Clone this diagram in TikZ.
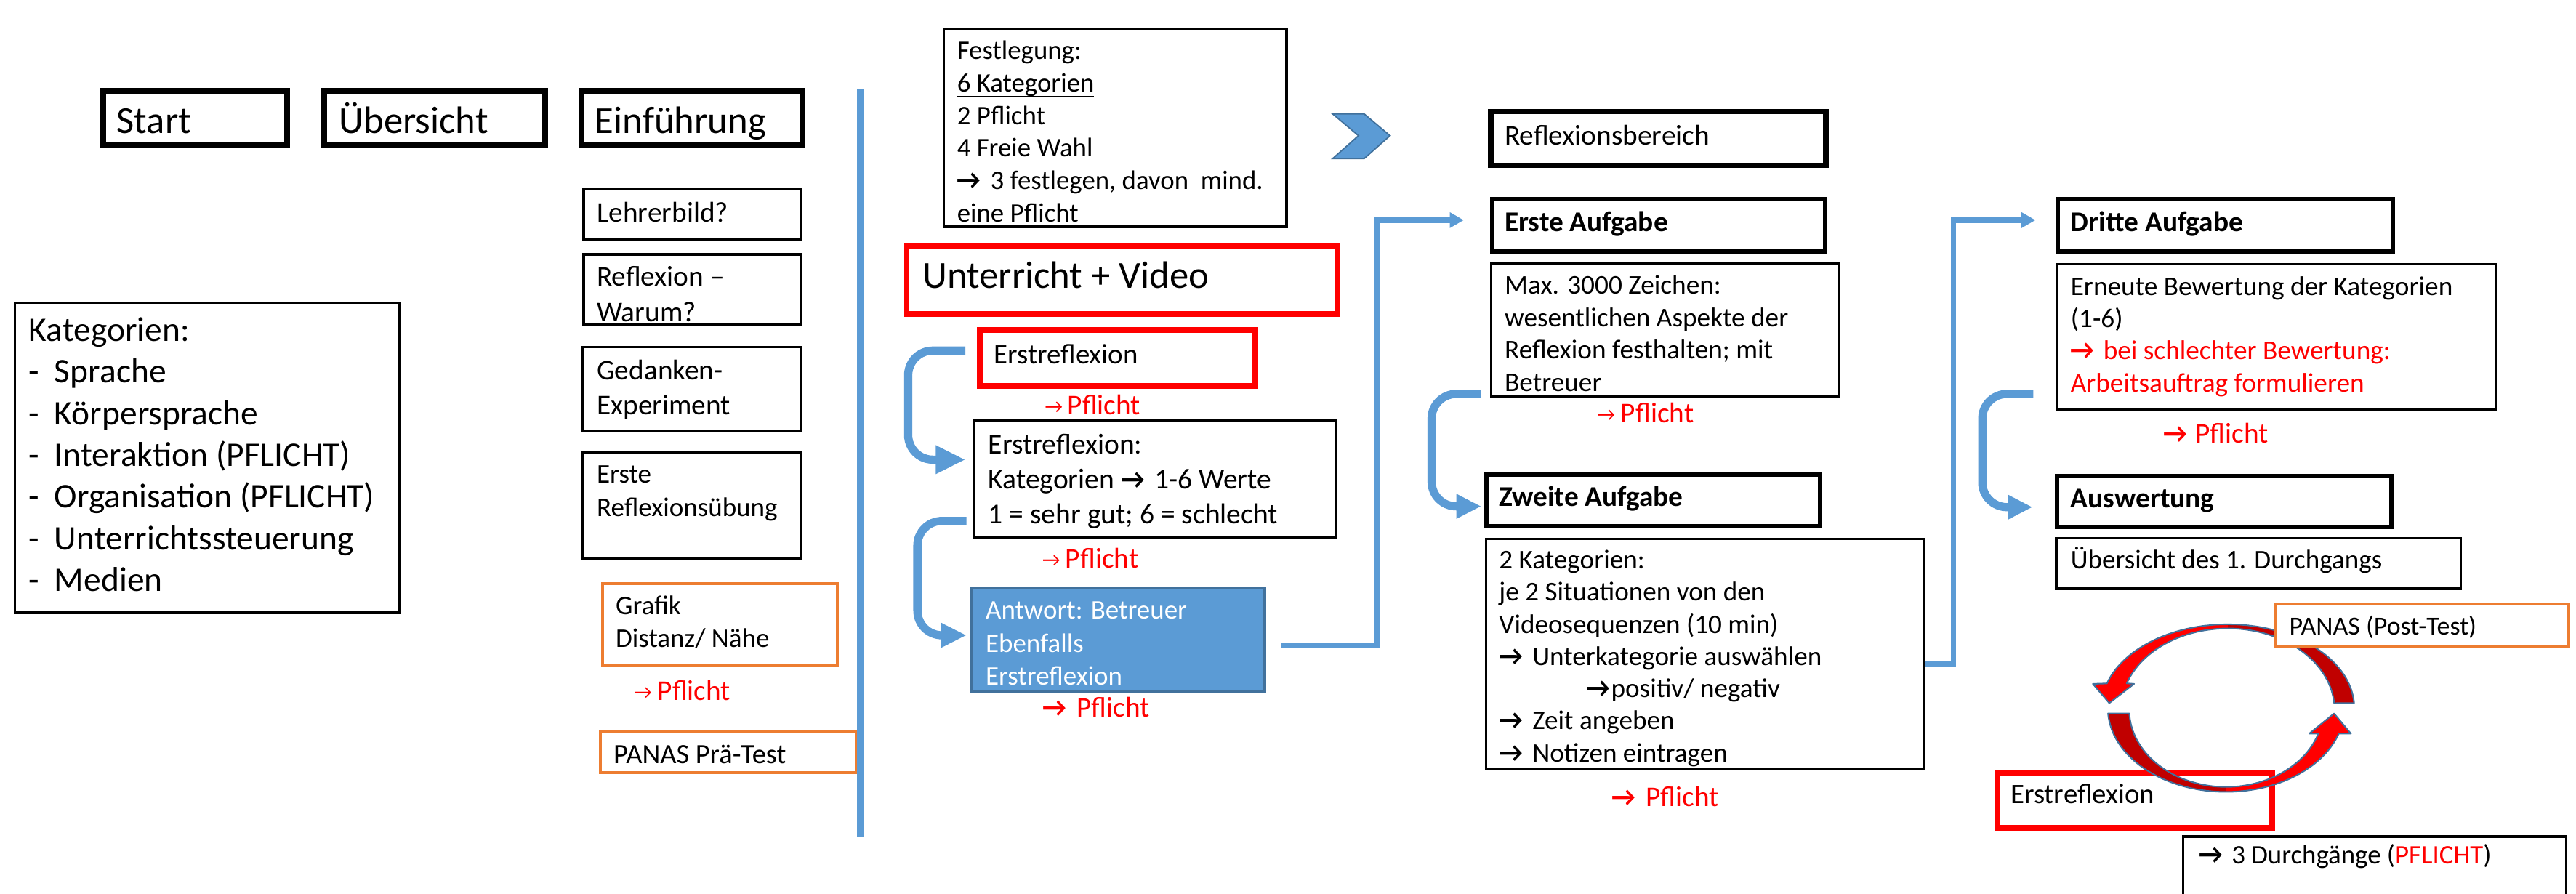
\documentclass[tikz,border=0pt]{standalone}
\usepackage{fontspec}
\usepackage{graphicx}
\setmainfont{Carlito}
\usetikzlibrary{arrows.meta,calc}
\definecolor{pblue}{HTML}{5B9BD5}
\definecolor{pdblue}{HTML}{41719C}
\definecolor{pred}{HTML}{FF0000}
\definecolor{pdred}{HTML}{C00000}
\definecolor{porange}{HTML}{ED7D31}
\newlength\ulw
\newcommand\myul[1]{\settowidth{\ulw}{#1}\rlap{\rule[-3.3pt]{\ulw}{0.9pt}}#1}
\newcommand\mlines[1]{\begin{tabular}[t]{@{}l@{}}#1\end{tabular}}
\newcommand\bigarr{\resizebox{14.5pt}{10pt}{\bfseries →}}
\newcommand\smarr{\raisebox{0.8pt}{\fontsize{12}{14}\selectfont →}}
\newcommand\katdash{\makebox[15.6pt][l]{-}}
\newcommand\mkbox[6]{\node[#2, rectangle, inner sep=0pt, outer sep=0pt, minimum width={(#5)-(#3)}, minimum height={(#6)-(#4)}] (#1) at ({((#3)+(#5))/2},{-((#4)+(#6))/2}) {};}
\newcommand\mktext[5]{\node[txt,#2] (#1) at (#3,{-#4}) {#5};}
\tikzset{
  thickbox/.style={draw=black, line width=3.6pt},
  thinbox/.style={draw=black, line width=1.5pt},
  midbox/.style={draw=black, line width=2.5pt},
  reflbox/.style={draw=black, line width=3.3pt},
  redbox/.style={draw=pred, line width=3.6pt},
  redboxb/.style={draw=pred, line width=3.4pt},
  orangebox/.style={draw=porange, line width=1.8pt, fill=white},
  bluefill/.style={draw=pdblue, fill=pblue, line width=1.5pt},
  conn/.style={draw=pblue, line width=3.4pt, -{Triangle[length=8.5pt,width=9pt]}},
  bendarr/.style={draw=pblue, line width=5pt, rounded corners=15pt},
  txt/.style={anchor=base west, inner sep=0pt, outer sep=0pt, text=black},
  fHead/.style={font=\fontsize{23.3}{28}\selectfont},
  fKat/.style={font=\fontsize{21}{25.4}\selectfont},
  fL/.style={font=\fontsize{17.4}{21.3}\selectfont},
  fM/.style={font=\fontsize{16.4}{20.2}\selectfont},
  fF/.style={font=\fontsize{16.3}{19.8}\selectfont},
  fE/.style={font=\fontsize{17.2}{20}\selectfont},
  fK6/.style={font=\fontsize{17.5}{21.05}\selectfont},
  fA/.style={font=\fontsize{16.35}{20.15}\selectfont, text=white},
  fB/.style={font=\fontsize{17.4}{21}\selectfont\bfseries},
  fX/.style={font=\fontsize{16.5}{19.7}\selectfont},
  fXb/.style={font=\fontsize{16.45}{19.6}\selectfont},
  fXc/.style={font=\fontsize{16.5}{19.5}\selectfont},
  fU/.style={font=\fontsize{16.4}{20}\selectfont},
  fPP/.style={font=\fontsize{15.9}{19}\selectfont},
  fD/.style={font=\fontsize{16.3}{19.5}\selectfont},
  fP/.style={font=\fontsize{17.4}{21}\selectfont, text=pred},
  fPre/.style={font=\fontsize{17}{20.5}\selectfont},
}
\begin{document}
\begin{tikzpicture}[x=1pt,y=1pt]
\path[use as bounding box, fill=white] (0,0) rectangle (1568,-543.8);
\clip (0,0) rectangle (1568,-543.8);

% header boxes
\mkbox{start}{thickbox}{62.8}{55.2}{174.9}{88.5}
\mktext{startT}{fHead}{71.1}{81.1}{Start}
\mkbox{uebers}{thickbox}{197.5}{55.2}{331.7}{88.5}
\mktext{uebersT}{fHead}{206.5}{81.1}{Übersicht}
\mkbox{einf}{thickbox}{353.9}{55.2}{488.5}{88.5}
\mktext{einfT}{fHead}{362.3}{81.1}{Einführung}

% Kategorien
\mkbox{kat}{thinbox}{9.2}{184.3}{243.1}{372.9}
\mktext{katT}{fKat}{17.6}{207.6}{\mlines{Kategorien:\\ \katdash Sprache\\ \katdash Körpersprache\\ \katdash Interaktion (PFLICHT)\\ \katdash Organisation (PFLICHT)\\ \katdash Unterrichtssteuerung\\ \katdash Medien}}

% left column
\mkbox{lehrer}{thinbox}{355.2}{115}{487.9}{145.6}
\mktext{lehrerT}{fL}{363.3}{135}{Lehrerbild?}
\mkbox{refl}{thinbox}{355.2}{154.8}{487.9}{197.6}
\mktext{reflT}{fL}{363.3}{174.3}{\mlines{Reflexion –\\Warum?}}
\mkbox{gedank}{thinbox}{354.5}{211.3}{487.6}{262.5}
\mktext{gedankT}{fL}{363.3}{231.2}{\mlines{Gedanken-\\Experiment}}
\mkbox{ersteU}{thinbox}{354.5}{275.3}{487.6}{340.3}
\mktext{ersteUT}{fM}{363.3}{294.2}{\mlines{Erste\\Reflexionsübung}}
\mkbox{grafik}{orangebox}{366.6}{355.2}{509.7}{405.1}
\mktext{grafikT}{fM}{374.8}{373.9}{\mlines{Grafik\\Distanz/ Nähe}}
\mktext{pfl1}{fP}{386}{426.3}{\makebox[14.2pt][l]{\smarr}Pflicht}
\mkbox{panasPre}{orangebox}{365.6}{444.9}{521}{470.4}
\mktext{panasPreT}{fPre}{373.5}{464.6}{PANAS Prä-Test}

% divider
\coordinate (divtop) at (523.5,-54.6);
\coordinate (divbot) at (523.5,-509.6);
\draw[pblue, line width=4pt] (divtop) -- (divbot);

% Festlegung
\mkbox{festl}{thinbox}{574.5}{17.6}{783.1}{138.1}
\mktext{festlT}{fF}{582.6}{36.1}{\mlines{Festlegung:\\ \myul{6 Kategorien}\\ 2 Pflicht\\ 4 Freie Wahl\\ \makebox[20.3pt][l]{\bigarr}3 festlegen, davon\ \ mind.\\ eine Pflicht}}

% chevron
\path[fill=pblue, draw=pdblue, line width=0.8pt] (811.1,-69.3) -- (830.3,-69.3) -- (846.1,-82.6) -- (830.3,-96.6) -- (811.1,-96.6) -- (826.9,-82.6) -- cycle;

% Unterricht + Video column
\mkbox{unterr}{redboxb}{552}{149.9}{813.9}{191.2}
\mktext{unterrT}{fHead}{561.6}{175.5}{Unterricht + Video}
\mkbox{erstA}{redbox}{596.25}{200.95}{764.15}{234.85}
\mktext{erstAT}{fE}{605.2}{221.6}{Erstreflexion}
\mktext{pfl2}{fP}{636.1}{252.2}{\makebox[13.6pt][l]{\smarr}Pflicht}
\mkbox{kat6}{thinbox}{592.85}{256.15}{813.05}{327.35}
\mktext{kat6T}{fK6}{601.6}{276.5}{\mlines{Erstreflexion:\\ Kategorien \makebox[20.3pt][l]{\bigarr}1-6 Werte\\ 1 = sehr gut; 6 = schlecht}}
\mktext{pfl3}{fP}{634.5}{345.8}{\makebox[14pt][l]{\smarr}Pflicht}
\mkbox{antw}{bluefill}{591.25}{358.05}{769.75}{421.05}
\mktext{antwT}{fA}{600}{376.8}{\mlines{Antwort: Betreuer\\ Ebenfalls\\ Erstreflexion}}
\mktext{pfl4}{fP}{634.5}{436.6}{\makebox[20.8pt][l]{\bigarr}Pflicht}

% Reflexionsbereich column
\mkbox{reflb}{reflbox}{907.35}{67.85}{1111.35}{100.65}
\mktext{reflbT}{fL}{915.9}{88.3}{Reflexionsbereich}
\mkbox{erste}{midbox}{908.05}{121.25}{1111.05}{152.95}
\mktext{ersteT}{fB}{915.9}{140.9}{Erste Aufgabe}
\mkbox{max}{thinbox}{907.55}{160.35}{1119.45}{241.65}
\mktext{maxT}{fX}{915.9}{179}{\mlines{Max. 3000 Zeichen:\\ wesentlichen Aspekte der\\ Reflexion festhalten; mit\\ Betreuer}}
\mktext{pfl5}{fP}{972.3}{257.2}{\makebox[14.2pt][l]{\smarr}Pflicht}
\mkbox{zweite}{midbox}{904.65}{288.95}{1107.65}{320.15}
\mktext{zweiteT}{fB}{912.5}{308.2}{Zweite Aufgabe}
\mkbox{kat2}{thinbox}{904.65}{327.95}{1171.35}{467.95}
\mktext{kat2T}{fXb}{912.5}{346.2}{\mlines{2 Kategorien:\\ je 2 Situationen von den\\ Videosequenzen (10 min)\\ \makebox[20.3pt][l]{\bigarr}Unterkategorie auswählen\\ \hspace*{53pt}\makebox[15.2pt][l]{\bigarr}positiv/ negativ\\ \makebox[20.3pt][l]{\bigarr}Zeit angeben\\ \makebox[20.3pt][l]{\bigarr}Notizen eintragen}}
\mktext{pfl6}{fP}{981.3}{491}{\makebox[20.4pt][l]{\bigarr}Pflicht}

% Dritte column
\mkbox{dritte}{midbox}{1252.55}{121.25}{1456.35}{152.95}
\mktext{dritteT}{fB}{1260.4}{140.9}{Dritte Aufgabe}
\mkbox{erneut}{thinbox}{1252.05}{160.75}{1519.25}{249.45}
\mktext{erneutT}{fXc}{1260.4}{180}{\mlines{Erneute Bewertung der Kategorien\\ (1-6)\\ \textcolor{pred}{\makebox[19.9pt][l]{\bigarr}bei schlechter Bewertung:}\\ \textcolor{pred}{Arbeitsauftrag formulieren}}}
\mktext{pfl7}{fP}{1317}{269.5}{\makebox[19.2pt][l]{\bigarr}Pflicht}
\mkbox{ausw}{midbox}{1252.15}{289.85}{1455.65}{320.85}
\mktext{auswT}{fB}{1260.4}{309.1}{Auswertung}
\mkbox{uebDurch}{thinbox}{1251.65}{327.55}{1497.95}{358.35}
\mktext{uebDurchT}{fU}{1260.4}{346.4}{Übersicht des 1. Durchgangs}

% Erstreflexion (cycle)
\mkbox{erstB}{redbox}{1215.65}{470.15}{1382.85}{504.05}
\mktext{erstBT}{fE}{1223.9}{488.9}{Erstreflexion}

% circular arrows
\fill[pdred] (1432.9,-428) arc[start angle=3.4, end angle=90, x radius=77, y radius=51] -- (1356,-382.5) arc[start angle=90, end angle=4.6, x radius=65, y radius=49.5] -- cycle;
\fill[pred] (1356,-380) arc[start angle=90, end angle=162.9, x radius=77, y radius=51] -- (1273.9,-416.3) -- (1283.9,-428) -- (1299,-416.3) -- (1294.5,-416) arc[start angle=161.1, end angle=90, x radius=65, y radius=49.5] -- cycle;
\draw[pdblue, line width=0.9pt, line join=round] (1432.9,-428) arc[start angle=3.4, end angle=162.9, x radius=77, y radius=51] -- (1273.9,-416.3) -- (1283.9,-428) -- (1299,-416.3) -- (1294.5,-416) arc[start angle=161.1, end angle=4.6, x radius=65, y radius=49.5] -- cycle;
\fill[pdred] (1283.15,-434.3) arc[start angle=183.7, end angle=270, x radius=72, y radius=51] -- (1355,-479) arc[start angle=270, end angle=182.8, x radius=59, y radius=47] -- cycle;
\fill[pred] (1355,-482) arc[start angle=270, end angle=342.2, x radius=72, y radius=51] -- (1431,-446.6) -- (1420.7,-434.3) -- (1405.6,-446.6) -- (1411.1,-446.6) arc[start angle=341.9, end angle=270, x radius=59, y radius=47] -- cycle;
\draw[pdblue, line width=0.9pt, line join=round] (1283.15,-434.3) arc[start angle=183.7, end angle=342.2, x radius=72, y radius=51] -- (1431,-446.6) -- (1420.7,-434.3) -- (1405.6,-446.6) -- (1411.1,-446.6) arc[start angle=341.9, end angle=182.8, x radius=59, y radius=47] -- cycle;

\mkbox{panasPost}{orangebox}{1384.8}{367.7}{1563.5}{393.3}
\mktext{panasPostT}{fPP}{1393.5}{386.4}{PANAS (Post-Test)}

\mkbox{durch}{thinbox}{1328.95}{509.25}{1562.05}{560}
\mktext{durchT}{fD}{1338.6}{525.9}{\makebox[19.8pt][l]{\bigarr}3 Durchgänge (\textcolor{pred}{PFLICHT})}

% connectors
\draw[bendarr, -{Triangle[length=18pt,width=16.2pt]}] ([xshift=-8.65pt,yshift=4.5pt]erstA.west) -| ([xshift=-40.05pt,yshift=41.75pt]kat6.west) |- ([xshift=-5.25pt,yshift=11.95pt]kat6.west);
\draw[bendarr, -{Triangle[length=15.4pt,width=14pt]}] ([xshift=-4.55pt,yshift=-25.35pt]kat6.west) -| ([xshift=-34.45pt,yshift=-58.25pt]kat6.west) |- ([xshift=-2.95pt,yshift=2.85pt]antw.west);
\draw[conn] ([xshift=10.45pt,yshift=-3.35pt]antw.east) -| ([xshift=-69.75pt,yshift=3.1pt]erste.west) -- ([xshift=-17.05pt,yshift=3.1pt]erste.west);
\draw[bendarr, -{Triangle[length=15.1pt,width=14pt]}] ([xshift=-5.95pt,yshift=-38.8pt]max.west) -| ([xshift=-36.15pt,yshift=-74pt]max.west) |- ([xshift=-3.05pt,yshift=-3.65pt]zweite.west);
\draw[conn] ([yshift=-6.15pt]kat2.east) -| ([xshift=-63.55pt,yshift=3.1pt]dritte.west) -- ([xshift=-13.55pt,yshift=3.1pt]dritte.west);
\draw[bendarr, -{Triangle[length=15pt,width=14pt]}] ([xshift=-14.35pt,yshift=-34.7pt]erneut.west) -| ([xshift=-45.45pt,yshift=-69.9pt]erneut.west) |- ([xshift=-14.95pt,yshift=-3.35pt]ausw.west);
\end{tikzpicture}
\end{document}
